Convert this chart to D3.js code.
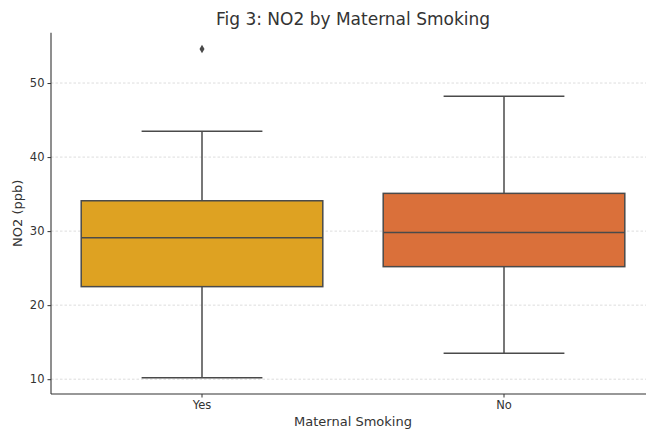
<!DOCTYPE html>
<html>
<head>
<meta charset="utf-8">
<script src="https://cdn.jsdelivr.net/npm/d3@7"></script>
<style>
  html, body { margin: 0; padding: 0; background: #fff; }
  svg { display: block; font-family: "DejaVu Sans", sans-serif; }
</style>
</head>
<body>
<svg id="chart" width="646" height="429"></svg>
<script>
// Box-plot summary of NO2 exposure by maternal smoking status
const categories = ["Yes", "No"];
const whiskerLow = [10.2, 13.5];
const q1 = [22.5, 25.2];
const median = [29.1, 29.8];
const q3 = [34.1, 35.1];
const whiskerHigh = [43.5, 48.2];
const outliers = [[54.6], []];
const boxColors = ["#dea222", "#da703a"];
const yTicks = [10, 20, 30, 40, 50];

(function () {
const svg = d3.select("#chart");
const W = 646, H = 429;
const plotLeft = 51, plotRight = 655, plotTop = 32.7, plotBottom = 394;
const edge = "#4a4a4a";

const x = d3.scaleBand().domain(categories).range([plotLeft, plotRight]).padding(0);
const y = d3.scaleLinear().domain([8.0, 56.8]).range([plotBottom, plotTop]);

// horizontal grid
svg.append("g")
  .selectAll("line")
  .data(yTicks)
  .join("line")
  .attr("x1", plotLeft).attr("x2", W)
  .attr("y1", d => y(d)).attr("y2", d => y(d))
  .attr("stroke", "#d4d4d4")
  .attr("stroke-width", 0.8)
  .attr("stroke-dasharray", "2.5,2");

const boxW = x.bandwidth() * 0.8;
const capW = boxW / 2;

const groups = svg.append("g")
  .selectAll("g")
  .data(categories.map((c, i) => ({
    c, i, lo: whiskerLow[i], q1: q1[i], med: median[i], q3: q3[i], hi: whiskerHigh[i], out: outliers[i]
  })))
  .join("g");

const cx = d => x(d.c) + x.bandwidth() / 2;

// whiskers
groups.append("line")
  .attr("x1", cx).attr("x2", cx)
  .attr("y1", d => y(d.q3)).attr("y2", d => y(d.hi))
  .attr("stroke", edge).attr("stroke-width", 1.5);
groups.append("line")
  .attr("x1", cx).attr("x2", cx)
  .attr("y1", d => y(d.q1)).attr("y2", d => y(d.lo))
  .attr("stroke", edge).attr("stroke-width", 1.5);
// caps
groups.append("line")
  .attr("x1", d => cx(d) - capW / 2).attr("x2", d => cx(d) + capW / 2)
  .attr("y1", d => y(d.hi)).attr("y2", d => y(d.hi))
  .attr("stroke", edge).attr("stroke-width", 1.5);
groups.append("line")
  .attr("x1", d => cx(d) - capW / 2).attr("x2", d => cx(d) + capW / 2)
  .attr("y1", d => y(d.lo)).attr("y2", d => y(d.lo))
  .attr("stroke", edge).attr("stroke-width", 1.5);

// boxes
groups.append("rect")
  .attr("x", d => cx(d) - boxW / 2)
  .attr("width", boxW)
  .attr("y", d => y(d.q3))
  .attr("height", d => y(d.q1) - y(d.q3))
  .attr("fill", d => boxColors[d.i])
  .attr("stroke", edge).attr("stroke-width", 1.5);

// medians
groups.append("line")
  .attr("x1", d => cx(d) - boxW / 2).attr("x2", d => cx(d) + boxW / 2)
  .attr("y1", d => y(d.med)).attr("y2", d => y(d.med))
  .attr("stroke", edge).attr("stroke-width", 1.5);

// outliers as thin diamonds
groups.selectAll("path.out")
  .data(d => d.out.map(v => ({ v, d })))
  .join("path")
  .attr("class", "out")
  .attr("transform", o => `translate(${cx(o.d)},${y(o.v)})`)
  .attr("d", "M0,-4.2L2.5,0L0,4.2L-2.5,0Z")
  .attr("fill", edge);

// axes
const yAxis = d3.axisLeft(y).tickValues(yTicks).tickSize(3.5).tickSizeOuter(0).tickPadding(3);
const gy = svg.append("g").attr("transform", `translate(${plotLeft},0)`).call(yAxis);
const xAxis = d3.axisBottom(x).tickSize(3.5).tickSizeOuter(0).tickPadding(3);
const gx = svg.append("g").attr("transform", `translate(0,${plotBottom})`).call(xAxis);

[gy, gx].forEach(g => {
  g.select(".domain").remove();
  g.selectAll(".tick line").attr("stroke", "#333").attr("stroke-width", 1);
  g.selectAll(".tick text")
    .attr("fill", "#333")
    .style("font-size", "11.5px")
    .style("font-family", "DejaVu Sans, sans-serif");
});

// spines
svg.append("line")
  .attr("x1", plotLeft).attr("x2", plotLeft)
  .attr("y1", plotTop).attr("y2", plotBottom)
  .attr("stroke", "#333").attr("stroke-width", 1.1);
svg.append("line")
  .attr("x1", plotLeft).attr("x2", W)
  .attr("y1", plotBottom).attr("y2", plotBottom)
  .attr("stroke", "#333").attr("stroke-width", 1.1);

// titles
svg.append("text")
  .attr("x", (plotLeft + plotRight) / 2).attr("y", 25)
  .attr("text-anchor", "middle")
  .attr("fill", "#333")
  .style("font-size", "17px")
  .text("Fig 3: NO2 by Maternal Smoking");

svg.append("text")
  .attr("x", (plotLeft + plotRight) / 2).attr("y", 426)
  .attr("text-anchor", "middle")
  .attr("fill", "#333")
  .style("font-size", "13px")
  .text("Maternal Smoking");

svg.append("text")
  .attr("transform", `translate(22,${(plotTop + plotBottom) / 2}) rotate(-90)`)
  .attr("text-anchor", "middle")
  .attr("fill", "#333")
  .style("font-size", "13px")
  .text("NO2 (ppb)");
})();
</script>
</body>
</html>
